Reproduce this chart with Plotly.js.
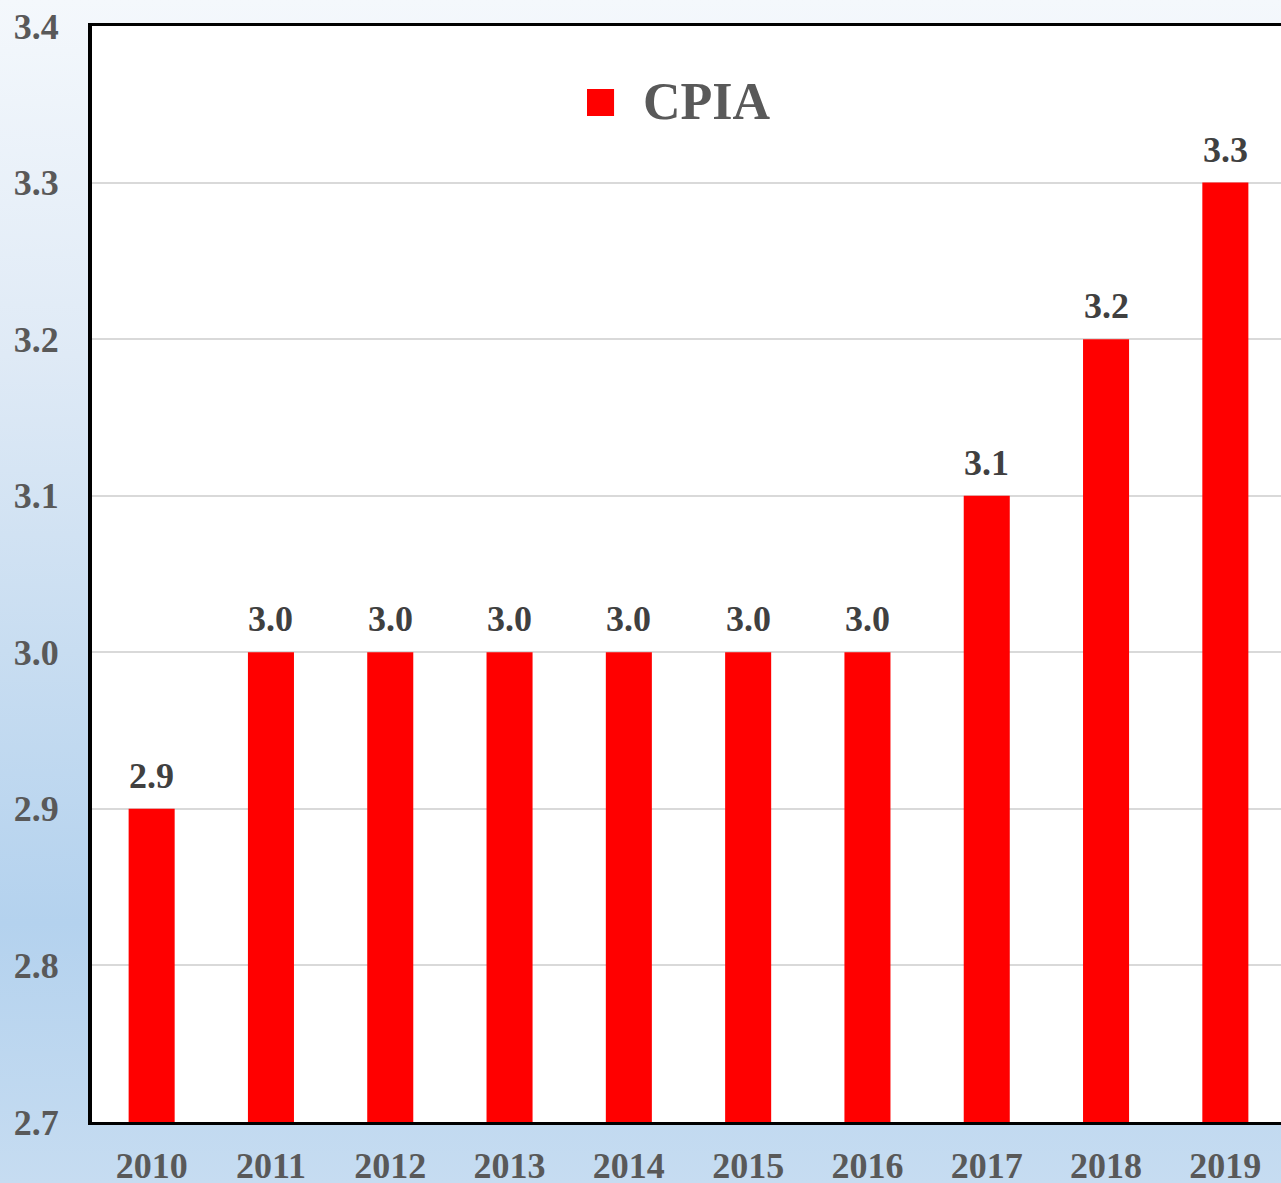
<!DOCTYPE html>
<html>
<head>
<meta charset="utf-8">
<script src="https://cdn.plot.ly/plotly-3.0.1.min.js"></script>
<style>
  html, body { margin: 0; padding: 0; overflow: hidden; width: 1281px; height: 1183px; }
  body { background: linear-gradient(to bottom, #f4f8fc 0%, #dfeaf6 30%, #c8ddf1 55%, #b4d2ee 78%, #c6dcf1 100%); }
  #chart { width: 1285px; height: 1183px; }
</style>
</head>
<body>
<div id="chart"></div>
<script>
const years = ['2010', '2011', '2012', '2013', '2014', '2015', '2016', '2017', '2018', '2019'];
const cpia = [2.9, 3.0, 3.0, 3.0, 3.0, 3.0, 3.0, 3.1, 3.2, 3.3];
const seriesName = 'CPIA';
const yTicks = [2.7, 2.8, 2.9, 3.0, 3.1, 3.2, 3.3, 3.4];

const serif = 'Liberation Serif, Times New Roman, serif';

const trace = {
  type: 'bar',
  x: years,
  y: cpia,
  name: seriesName,
  marker: { color: '#ff0000' },
  showlegend: false,
  hoverinfo: 'x+y'
};

// category axis: annotations positioned by category index
const labelAnnotations = years.map((yr, i) => ({
  x: i, y: cpia[i], xref: 'x', yref: 'y',
  text: cpia[i].toFixed(1),
  showarrow: false, yanchor: 'bottom', yshift: 11,
  font: { family: serif, size: 36, color: '#404040', weight: 'bold' }
}));

const layout = {
  width: 1285, height: 1183,
  margin: { l: 92, r: 0, t: 26, b: 61, pad: 0 },
  paper_bgcolor: 'rgba(0,0,0,0)',
  plot_bgcolor: '#ffffff',
  bargap: 0.614,
  xaxis: {
    type: 'category',
    range: [-0.5, years.length - 0.5],
    showgrid: false,
    showline: true, linecolor: '#000000', linewidth: 3, mirror: true,
    ticks: 'outside', ticklen: 10, tickcolor: 'rgba(0,0,0,0)',
    tickfont: { family: serif, size: 36, color: '#595959', weight: 'bold' },
    fixedrange: true
  },
  yaxis: {
    range: [2.7, 3.4],
    tickvals: yTicks,
    ticktext: yTicks.map(v => v.toFixed(1)),
    showgrid: true, gridcolor: '#d9d9d9', gridwidth: 2,
    zeroline: false,
    showline: true, linecolor: '#000000', linewidth: 4, mirror: true,
    ticks: 'outside', ticklen: 22, tickcolor: 'rgba(0,0,0,0)',
    tickfont: { family: serif, size: 36, color: '#595959', weight: 'bold' },
    fixedrange: true
  },
  shapes: [{
    type: 'rect', xref: 'paper', yref: 'paper',
    x0: 0.4149, x1: 0.4376, y0: 0.9179, y1: 0.9425,
    fillcolor: '#ff0000', line: { width: 0 }
  }],
  annotations: labelAnnotations.concat([{
    xref: 'paper', yref: 'paper', x: 0.4602, y: 0.9307,
    xanchor: 'left', yanchor: 'middle', showarrow: false,
    text: seriesName,
    font: { family: serif, size: 52, color: '#595959', weight: 'bold' }
  }])
};

Plotly.newPlot('chart', [trace], layout, { displayModeBar: false, staticPlot: true });
</script>
</body>
</html>
